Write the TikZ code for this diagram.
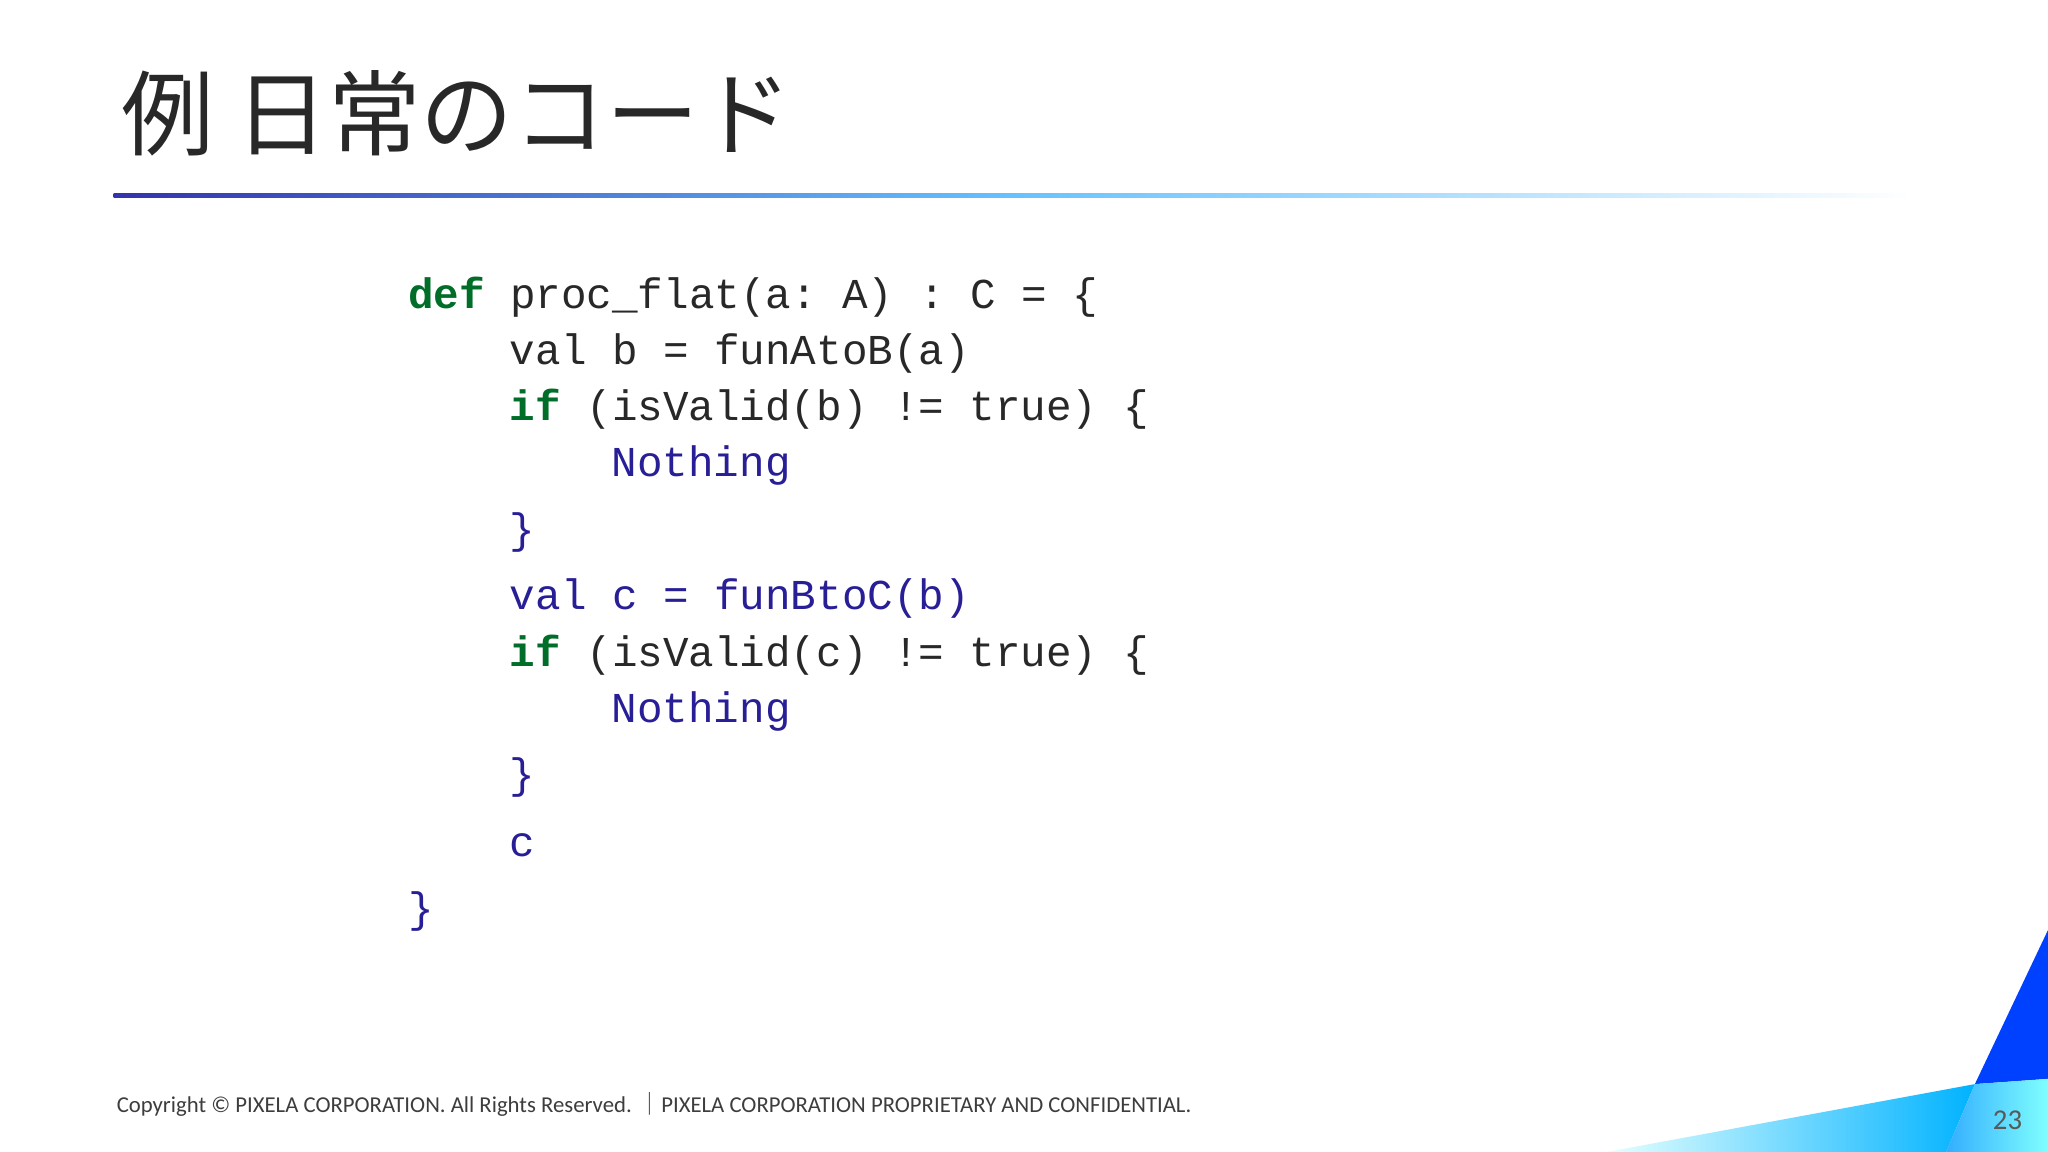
\documentclass[tikz,border=0pt]{standalone}
\usepackage{fontspec}
\setmonofont{Liberation Mono}
\newfontfamily\cjk{Noto Sans CJK JP}
\newfontfamily\foot{Carlito}
\definecolor{kw}{RGB}{0,110,40}
\definecolor{bl}{RGB}{40,30,150}
\definecolor{tx}{RGB}{40,40,40}
\tikzset{x=0.5pt,y=-0.5pt,
 code/.style={anchor=base west,inner sep=0,font=\ttfamily\fontsize{16.3}{18}\selectfont,text=tx}}
\newcommand{\kwd}[1]{\textcolor{kw}{\textbf{#1}}}
\newcommand{\blu}[1]{\textcolor{bl}{#1}}
\begin{document}
\begin{tikzpicture}
\useasboundingbox (0,0) rectangle (1568,882);
\fill[white] (0,0) rectangle (1568,882);
\node[anchor=base west,inner sep=0,font=\cjk\fontsize{35.5}{38}\selectfont,text=tx] (title) at (93,114) {例 日常のコード};
\shade[left color=blue!60!black!80, right color=white, middle color=cyan!60!blue!60] (87,148.5) rectangle (1465,151.5);
\node[code] (l1) at (312,236) {\kwd{def} proc\_flat(a: A) : C = \{};
\node[code] (l2) at (390,279) {val b = funAtoB(a)};
\node[code] (l3) at (390,322) {\kwd{if} (isValid(b) != true) \{};
\node[code] (l4) at (468,365) {\blu{Nothing}};
\node[code] (l5) at (390,416) {\blu{\}}};
\node[code] (l6) at (390,467) {\blu{val c = funBtoC(b)}};
\node[code] (l7) at (390,510) {\kwd{if} (isValid(c) != true) \{};
\node[code] (l8) at (468,553) {\blu{Nothing}};
\node[code] (l9) at (390,604) {\blu{\}}};
\node[code] (l10) at (390,656) {\blu{c}};
\node[code] (l11) at (312,706) {\blu{\}}};
\node[anchor=base west,inner sep=0,font=\foot\fontsize{8.7}{10}\selectfont,text=tx!90] (foot) at (89,852) {Copyright © PIXELA CORPORATION. All Rights Reserved. {\cjk ｜}PIXELA CORPORATION PROPRIETARY AND CONFIDENTIAL.};
\shade[left color=cyan!10, right color=cyan!70!blue] (1230,882) -- (1512,830) -- (1490,882) -- cycle;
\fill[blue!75!cyan] (1568,712) -- (1512,830) -- (1568,826) -- cycle;
\shade[left color=cyan!60!blue!80, right color=cyan!50] (1512,830) -- (1568,826) -- (1568,882) -- (1490,882) -- cycle;
\node[anchor=base,inner sep=0,font=\foot\fontsize{11}{12}\selectfont,text=gray!70!black] (num) at (1537,865) {23};
\end{tikzpicture}
\end{document}
